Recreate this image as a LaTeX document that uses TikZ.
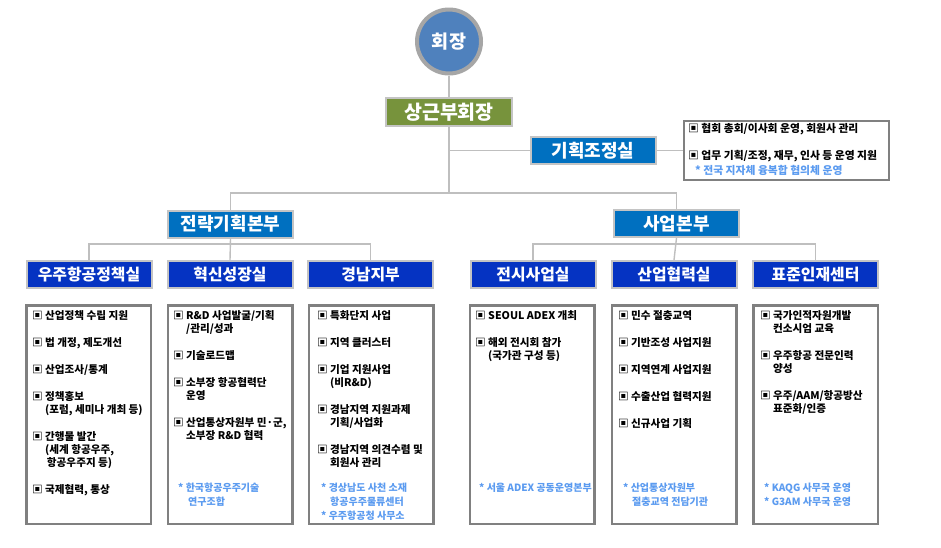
\documentclass[tikz,border=0pt]{standalone}
\usepackage{fontspec}
\setmainfont{Noto Sans CJK KR}
\definecolor{chairfill}{HTML}{4F81BD}
\definecolor{chairrim}{HTML}{A6A6A6}
\definecolor{vicefill}{HTML}{77933C}
\definecolor{midfill}{HTML}{0070C0}
\definecolor{subfill}{HTML}{0533C2}
\definecolor{boxrim}{HTML}{C4C4C4}
\definecolor{lineg}{HTML}{BFBFBF}
\definecolor{detrim}{HTML}{808080}
\definecolor{notecol}{HTML}{5B9BF0}
\begin{document}
\begin{tikzpicture}[x=1pt,y=-1pt,
  conn/.style={draw=lineg, line width=1.4pt},
  chairnode/.style={circle, fill=chairfill, draw=chairrim, line width=4pt, minimum size=64pt, inner sep=0pt, text=white, font=\bfseries\fontsize{18.5}{20}\selectfont},
  vicenode/.style={rectangle, fill=vicefill, draw=boxrim, line width=2pt, minimum width=126pt, minimum height=28pt, inner sep=0pt, text=white, font=\bfseries\fontsize{19.5}{21}\selectfont},
  midnode/.style={rectangle, fill=midfill, draw=boxrim, line width=2pt, minimum width=125pt, minimum height=27pt, inner sep=0pt, text=white, font=\bfseries\fontsize{18}{20}\selectfont},
  subnode/.style={rectangle, fill=subfill, draw=boxrim, line width=2pt, minimum width=125pt, minimum height=27pt, inner sep=0pt, text=white, font=\bfseries\fontsize{15.9}{17}\selectfont},
  detailbox/.style={rectangle, draw=detrim, line width=2.5pt, minimum width=124.5pt, minimum height=218.5pt, inner sep=0pt},
  infobox/.style={rectangle, draw=detrim, line width=2pt, minimum width=205pt, minimum height=59pt, inner sep=0pt},
  itemtxt/.style={anchor=north west, align=left, inner sep=0pt, text=black, font=\bfseries\fontsize{10.6}{13}\selectfont},
  infotxt/.style={anchor=north west, align=left, inner sep=0pt, text=black, font=\bfseries\fontsize{10.8}{13}\selectfont},
  notetxt/.style={anchor=north west, align=left, inner sep=0pt, text=notecol, font=\bfseries\fontsize{10}{14}\selectfont}
]
\useasboundingbox (0,0) rectangle (941,547);
\fill[white] (0,0) rectangle (941,547);

% top
\node[chairnode] (chair) at (449,41.5) {회장};
\node[vicenode] (vice) at (449,112) {상근부회장};
\node[midnode] (plan) at (593,150.5) {기획조정실};
\node[infobox] (info) at (786.5,150.5) {};
\node[midnode] (strat) at (230.5,224) {전략기획본부};
\node[midnode] (biz) at (676.5,223.5) {사업본부};

% sub units
\node[subnode] (s1) at (89,274.5) {우주항공정책실};
\node[subnode] (s2) at (230,274.5) {혁신성장실};
\node[subnode] (s3) at (370.5,274.5) {경남지부};
\node[subnode] (s4) at (533,274.5) {전시사업실};
\node[subnode] (s5) at (674,274.5) {산업협력실};
\node[subnode] (s6) at (815.5,274.5) {표준인재센터};

% detail boxes
\node[detailbox] (d1) at (88.5,414.5) {};
\node[detailbox] (d2) at (230,414.5) {};
\node[detailbox] (d3) at (371,414.5) {};
\node[detailbox] (d4) at (532,414.5) {};
\node[detailbox] (d5) at (674,414.5) {};
\node[detailbox] (d6) at (815.5,414.5) {};

% connectors
\coordinate (hub) at (449,193);
\coordinate (jplan) at (449,150.5);
\coordinate (lbus) at (230,244);
\coordinate (rbus) at (676,244);
\draw[conn] (chair.south) -- (vice.north);
\draw[conn] (vice.south) -- (hub);
\draw[conn] (jplan) -- (plan.west);
\draw[conn] (plan.east) -- (info.west);
\draw[conn] (strat.north) -- (strat.north |- hub) -- (biz.north |- hub) -- (biz.north);
\draw[conn] (strat.south) -- (s2.north);
\draw[conn] (s1.north) -- (s1.north |- lbus) -- (s3.north |- lbus) -- (s3.north);
\draw[conn] (biz.south) -- (s5.north);
\draw[conn] (s4.north) -- (s4.north |- rbus) -- (s6.north |- rbus) -- (s6.north);

% info text
\node[infotxt] (it) at (688,123) {▣ 협회 총회/이사회 운영, 회원사 관리\\[14pt]▣ 업무 기획/조정, 재무, 인사 등 운영 지원};
\node[notetxt, font=\bfseries\fontsize{10.8}{14}\selectfont] (in) at (695,165) {* 전국 지자체 융복합 협의체 운영};

% box 1
\node[itemtxt] (t1) at (32,310) {▣ 산업정책 수립 지원\\[14pt]▣ 법 개정, 제도개선\\[14pt]▣ 산업조사/통계\\[14pt]▣ 정책홍보\\\hphantom{▣ }(포럼, 세미나 개최 등)\\[14pt]▣ 간행물 발간\\\hphantom{▣ }(세계 항공우주,\\\hphantom{▣ }\,항공우주지 등)\\[14pt]▣ 국제협력, 통상};
% box 2
\node[itemtxt] (t2) at (173,310) {▣ R\&D 사업발굴/기획\\\hphantom{▣ }/관리/성과\\[14pt]▣ 기술로드맵\\[14pt]▣ 소부장 항공협력단\\\hphantom{▣ }운영\\[14pt]▣ 산업통상자원부 민·군,\\\hphantom{▣ }소부장 R\&D 협력};
\node[notetxt] (n2) at (178,482.5) {* 한국항공우주기술\\\hspace{10pt}연구조합};
% box 3
\node[itemtxt] (t3) at (317,310) {▣ 특화단지 사업\\[14pt]▣ 지역 클러스터\\[14pt]▣ 기업 지원사업\\\hphantom{▣ }(비R\&D)\\[14pt]▣ 경남지역 지원과제\\\hphantom{▣ }기획/사업화\\[14pt]▣ 경남지역 의견수렴 및\\\hphantom{▣ }회원사 관리};
\node[notetxt] (n3) at (321,482.5) {* 경상남도 사천 소재\\\hspace{9pt}항공우주물류센터\\* 우주항공청 사무소};
% box 4
\node[itemtxt] (t4) at (475,310) {▣ SEOUL ADEX 개최\\[14pt]▣ 해외 전시회 참가\\\hphantom{▣ }(국가관 구성 등)};
\node[notetxt] (n4) at (479,482.5) {* 서울 ADEX 공동운영본부};
% box 5
\node[itemtxt] (t5) at (618,310) {▣ 민수 절충교역\\[14pt]▣ 기반조성 사업지원\\[14pt]▣ 지역연계 사업지원\\[14pt]▣ 수출산업 협력지원\\[14pt]▣ 신규사업 기획};
\node[notetxt] (n5) at (623,482.5) {* 산업통상자원부\\\hspace{9pt}절충교역 전담기관};
% box 6
\node[itemtxt] (t6) at (760,310) {▣ 국가인적자원개발\\\hphantom{▣ }컨소시엄 교육\\[14pt]▣ 우주항공 전문인력\\\hphantom{▣ }양성\\[14pt]▣ 우주/AAM/항공방산\\\hphantom{▣ }표준화/인증};
\node[notetxt] (n6) at (764,482.5) {* KAQG 사무국 운영\\* G3AM 사무국 운영};
\end{tikzpicture}
\end{document}
